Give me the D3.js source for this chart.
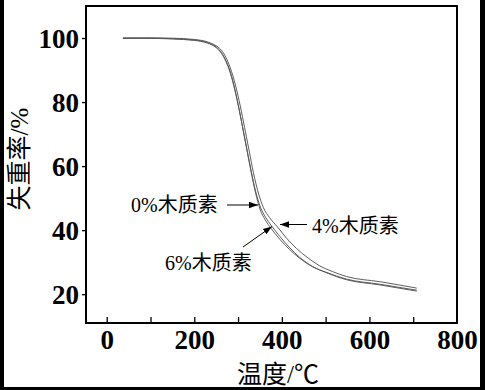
<!DOCTYPE html>
<html><head><meta charset="utf-8">
<script src="https://cdn.jsdelivr.net/npm/d3@7"></script>
<style>body{margin:0;background:#fff;}svg{display:block;}</style>
</head><body>
<svg id="c" width="485" height="390"></svg>
<script>
const xTicks = [0, 200, 400, 600, 800];
const xMinorTicks = [0, 100, 200, 300, 400, 500, 600, 700];
const yTicks = [20, 40, 60, 80, 100];
const seriesNames = ["0%木质素", "4%木质素", "6%木质素"];
const temps0 = [37, 100, 150, 200, 230, 250, 260, 270, 280, 290, 300, 310, 320, 330, 340, 350, 362, 375, 395, 418, 440, 471, 500, 548, 624, 708];
const loss0  = [99.85, 99.95, 99.8, 99.4, 98.6, 97.2, 95.9, 93.6, 90.4, 85.6, 79.4, 72.4, 65.2, 58.0, 51.6, 46.6, 43.2, 40.6, 37.2, 33.9, 31.3, 28.5, 26.9, 24.7, 23.1, 21.25];
const temps4 = [37, 100, 150, 200, 232, 252, 262, 272, 282, 294, 305, 315, 325, 335, 347, 358, 372, 390, 412, 434, 460, 487, 515, 548, 624, 708];
const loss4  = [100, 100.05, 99.95, 99.55, 98.7, 97.4, 96.2, 94.0, 90.8, 85.3, 78.8, 72.0, 65.0, 58.0, 51.3, 47.0, 43.9, 41, 37.3, 34.2, 31.3, 28.8, 27.1, 25.5, 23.9, 21.9];
const temps6 = [37, 100, 150, 200, 230, 250, 260, 270, 280, 290, 300, 310, 320, 330, 340, 351, 363, 376, 395, 418, 440, 471, 500, 548, 624, 708];
const loss6  = [100, 99.9, 99.7, 99.25, 98.4, 97.0, 95.6, 93.3, 90.0, 85.2, 79.2, 72.4, 65.4, 58.4, 52.2, 47.2, 44.0, 41.4, 38.1, 34.5, 31.6, 28.6, 26.8, 24.5, 22.9, 20.95];

const svg = d3.select("#c");
const W = 485, H = 390;
const L = 86, R = 457, T = 6, B = 323;
const x = d3.scaleLinear().domain([-47.3, 800]).range([L, R]);
const y = d3.scaleLinear().domain([11, 110]).range([B, T]);
const serif = "'Liberation Serif','Times New Roman',serif";
const cjk = "'Liberation Serif','Noto Sans CJK SC',serif";

// black edges of the scan
svg.append("rect").attr("x",0).attr("y",0).attr("width",4).attr("height",H).attr("fill","#000");
svg.append("rect").attr("x",480).attr("y",0).attr("width",5).attr("height",H).attr("fill","#000");
svg.append("rect").attr("x",0).attr("y",387).attr("width",W).attr("height",3).attr("fill","#000");

// curves
const line = d3.line().x(d => x(d[0])).y(d => y(d[1])).curve(d3.curveMonotoneX);
const series = [
  d3.zip(temps0, loss0),
  d3.zip(temps4, loss4),
  d3.zip(temps6, loss6)
];
series.forEach(s => {
  svg.append("path").attr("d", line(s)).attr("fill","none")
    .attr("stroke","#555").attr("stroke-width",0.95);
});

// axes
const xAxis = svg.append("g").attr("transform",`translate(0,${B})`)
  .call(d3.axisBottom(x).tickValues(xMinorTicks).tickSizeInner(-6).tickSizeOuter(0).tickFormat(""));
xAxis.select(".domain").remove();
xAxis.selectAll("line").attr("stroke","#000").attr("stroke-width",1.3);
const xLab = svg.append("g").attr("transform",`translate(0,${B})`)
  .call(d3.axisBottom(x).tickValues(xTicks).tickSize(0).tickPadding(7));
xLab.select(".domain").remove();
xLab.selectAll("text").attr("font-family",serif).attr("font-weight","bold")
  .attr("font-size",27).attr("fill","#000");

const yAxis = svg.append("g").attr("transform",`translate(${L},0)`)
  .call(d3.axisLeft(y).tickValues(yTicks).tickSizeInner(4).tickSizeOuter(0).tickPadding(3));
yAxis.select(".domain").remove();
yAxis.selectAll("line").attr("stroke","#000").attr("stroke-width",1.3);
yAxis.selectAll("text").attr("font-family",serif).attr("font-weight","bold")
  .attr("font-size",27).attr("fill","#000").attr("dy","0.34em");

// frame
svg.append("rect").attr("x",L).attr("y",T).attr("width",R-L).attr("height",B-T)
  .attr("fill","none").attr("stroke","#000").attr("stroke-width",2);

// axis titles
svg.append("text").attr("x",278).attr("y",383).attr("text-anchor","middle")
  .attr("font-family",cjk).attr("font-size",25).attr("fill","#000").text("温度/℃");
svg.append("text").attr("transform","translate(28,159) rotate(-90)").attr("text-anchor","middle")
  .attr("font-family",cjk).attr("font-size",25).attr("fill","#000").text("失重率/%");

// annotations
const defs = svg.append("defs");
defs.append("marker").attr("id","ah").attr("viewBox","0 0 10 10").attr("refX",10).attr("refY",5)
  .attr("markerWidth",9).attr("markerHeight",9).attr("markerUnits","userSpaceOnUse").attr("orient","auto")
  .append("path").attr("d","M0,1.5L10,5L0,8.5Z").attr("fill","#000");

const ann = [
  {name: seriesNames[0], tx: 131, ty: 212, x1: 227, y1: 205, x2: 258, y2: 205},
  {name: seriesNames[1], tx: 312, ty: 233, x1: 307, y1: 224.5, x2: 280, y2: 224.5},
  {name: seriesNames[2], tx: 165, ty: 270, x1: 243, y1: 247, x2: 272, y2: 226.5}
];
ann.forEach(a => {
  svg.append("text").attr("x",a.tx).attr("y",a.ty).attr("font-family",cjk)
    .attr("font-size",20).attr("fill","#000").text(a.name);
  svg.append("line").attr("x1",a.x1).attr("y1",a.y1).attr("x2",a.x2).attr("y2",a.y2)
    .attr("stroke","#000").attr("stroke-width",1).attr("marker-end","url(#ah)");
});
</script>
</body></html>
